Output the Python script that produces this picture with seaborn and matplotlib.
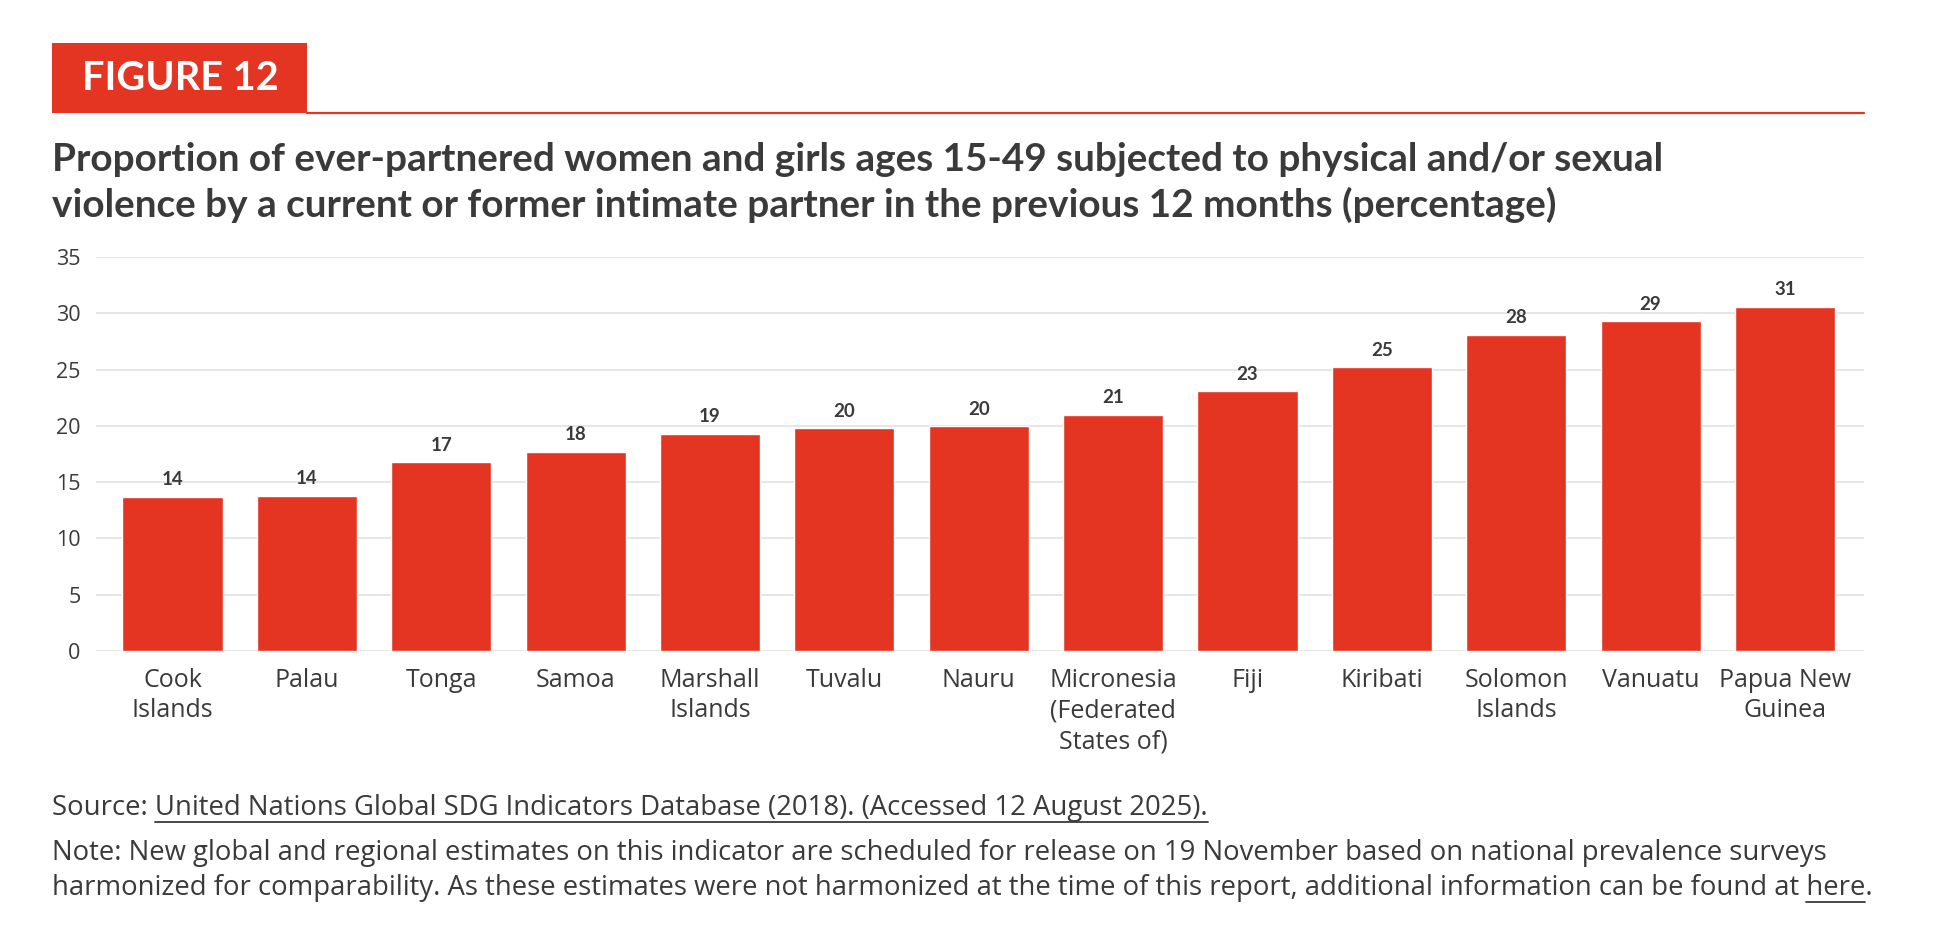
import matplotlib
matplotlib.use("Agg")
import matplotlib.pyplot as plt
import seaborn as sns
import pandas as pd
from matplotlib.patches import Rectangle
from matplotlib.lines import Line2D

countries = ["Cook\nIslands", "Palau", "Tonga", "Samoa", "Marshall\nIslands", "Tuvalu",
             "Nauru", "Micronesia\n(Federated\nStates of)", "Fiji", "Kiribati",
             "Solomon\nIslands", "Vanuatu", "Papua New\nGuinea"]
values = [13.7, 13.8, 16.8, 17.7, 19.3, 19.8, 20.0, 21.0, 23.1, 25.2, 28.1, 29.3, 30.6]
yticks = [0, 5, 10, 15, 20, 25, 30, 35]

RED = "#E43422"
TXT = "#3a3a3a"
GRID = "#e4e4e4"

sns.set_theme(style="white")
plt.rcParams["font.family"] = ["Open Sans", "DejaVu Sans"]
BOLD = ["Lato", "DejaVu Sans"]

W, H, DPI = 1938, 952, 100
fig = plt.figure(figsize=(W / DPI, H / DPI), dpi=DPI)
fig.patch.set_facecolor("white")

def fx(px):
    return px / W

def fy(py):
    return 1 - py / H

ax = fig.add_axes([fx(96), fy(651), fx(1864) - fx(96), fy(257) - fy(651)])
df = pd.DataFrame({"country": countries, "value": values})
sns.barplot(data=df, x="country", y="value", color=RED, saturation=1, width=0.745, ax=ax)

ax.set_xlim(-0.569, 12.588)
ax.set_ylim(0, 35)
ax.set_yticks(yticks)
ax.set_yticklabels([str(t) for t in yticks])
ax.yaxis.grid(True, color=GRID, linewidth=1.3)
ax.xaxis.grid(False)
ax.set_axisbelow(True)
for s in ax.spines.values():
    s.set_visible(False)
ax.set_xlabel("")
ax.set_ylabel("")
ax.tick_params(axis="y", length=0, pad=11, labelsize=15.5, labelcolor=TXT)
ax.tick_params(axis="x", length=0, pad=12, labelsize=18, labelcolor=TXT)
for lab in ax.get_xticklabels():
    lab.set_linespacing(1.3)

for i, v in enumerate(values):
    ax.annotate(f"{round(v):d}", (i, v), xytext=(0, 6), textcoords="offset points",
                ha="center", va="bottom", fontsize=13.5, fontweight="bold", color=TXT,
                family=BOLD)

# Figure label box and rule
fig.add_artist(Rectangle((fx(52), fy(113)), fx(307) - fx(52), fy(43) - fy(113),
                         transform=fig.transFigure, facecolor=RED, edgecolor="none"))
fig.add_artist(Line2D([fx(307), fx(1864)], [fy(112.5), fy(112.5)], transform=fig.transFigure,
                      color=RED, linewidth=1.6))
fig.text(fx(180), fy(79), "FIGURE 12", ha="center", va="center", color="white",
         fontsize=28.5, fontweight="bold", family=BOLD)

title1 = "Proportion of ever-partnered women and girls ages 15-49 subjected to physical and/or sexual"
title2 = "violence by a current or former intimate partner in the previous 12 months (percentage)"
fig.text(fx(52), fy(171), title1, ha="left", va="baseline", color=TXT, fontsize=27.9,
         fontweight="bold", family=BOLD)
fig.text(fx(52), fy(217), title2, ha="left", va="baseline", color=TXT, fontsize=27.9,
         fontweight="bold", family=BOLD)

# Source and note
fs = 19.8
src_pre = "Source: "
src_link = "United Nations Global SDG Indicators Database (2018). (Accessed 12 August 2025)."
note1 = "Note: New global and regional estimates on this indicator are scheduled for release on 19 November based on national prevalence surveys"
note2_pre = "harmonized for comparability. As these estimates were not harmonized at the time of this report, additional information can be found at "
link2 = "here"

fig.text(fx(52), fy(815), src_pre + src_link, ha="left", va="baseline", color=TXT, fontsize=fs)
fig.text(fx(52), fy(860), note1, ha="left", va="baseline", color=TXT, fontsize=fs)
fig.text(fx(52), fy(895), note2_pre + link2 + ".", ha="left", va="baseline", color=TXT, fontsize=fs)

r = fig.canvas.get_renderer()

def width_px(s):
    t = fig.text(0, 0, s.replace(" ", "\u00a0"), fontsize=fs)
    w = t.get_window_extent(r).width
    t.remove()
    return w

x0 = 52
a = width_px(src_pre)
b = width_px(src_pre + src_link)
fig.add_artist(Line2D([fx(x0 + a), fx(x0 + b)], [fy(822), fy(822)], transform=fig.transFigure,
                      color=TXT, linewidth=1.3))
a = width_px(note2_pre)
b = width_px(note2_pre + link2)
fig.add_artist(Line2D([fx(x0 + a), fx(x0 + b)], [fy(902), fy(902)], transform=fig.transFigure,
                      color=TXT, linewidth=1.3))

fig.savefig("out.png", dpi=DPI, facecolor="white")
